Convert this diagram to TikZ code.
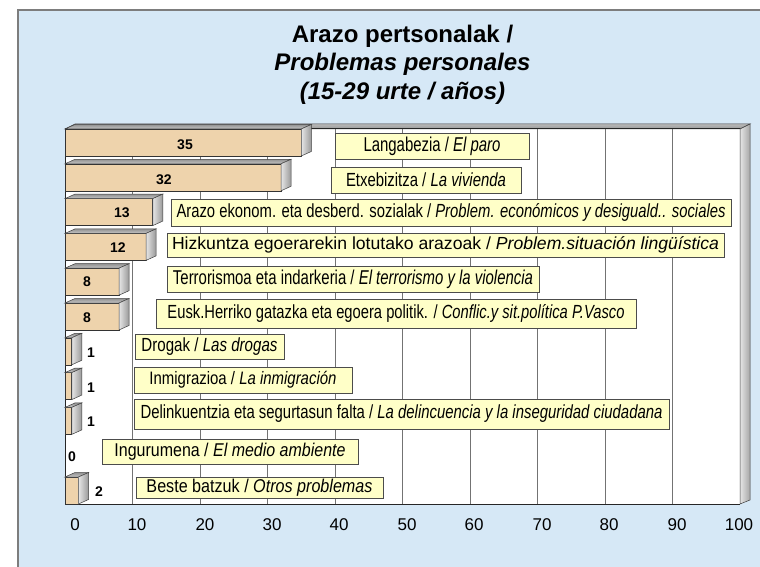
\documentclass[tikz,border=0pt]{standalone}
\usepackage{fontspec}
\setmainfont{Liberation Sans}
\usepackage{graphicx}
\definecolor{bgblue}{RGB}{214,232,246}
\definecolor{bartan}{RGB}{238,211,172}
\definecolor{lblyellow}{RGB}{255,255,200}
\definecolor{framegray}{RGB}{125,125,125}
\definecolor{gridgray}{RGB}{115,115,115}
\tikzset{
  lbl/.style={draw=black!70, fill=lblyellow, line width=0.8pt, inner sep=0pt,
    font=\fontsize{#1}{22}\selectfont},
  val/.style={font=\fontsize{14}{16}\selectfont\bfseries},
  ticklbl/.style={font=\fontsize{17}{20}\selectfont, anchor=base},
  ttl/.style={font=\fontsize{24}{28}\selectfont\bfseries, anchor=base},
  gridln/.style={gridgray, line width=0.9pt},
  edge/.style={draw=black!75, line width=0.5pt}
}
\newcommand{\drawbar}[2]{%
  \pgfmathsetmacro{\xe}{65+6.75*#2}%
  \pgfmathsetmacro{\yb}{#1+27}%
  \fill[bartan] (65,#1) rectangle (\xe,\yb);
  \draw[black!80, line width=0.6pt] (65,#1) rectangle (\xe,\yb);
  \shade[top color=gray!85, bottom color=gray!45, edge] (65,#1) -- (75,#1-4.5) -- (\xe+10,#1-4.5) -- (\xe,#1) -- cycle;
  \shade[left color=gray!20, right color=gray!80, edge] (\xe,#1) -- (\xe+10,#1-4.5) -- (\xe+10,\yb-4.5) -- (\xe,\yb) -- cycle;
}
\begin{document}
\begin{tikzpicture}[x=1pt,y=-1pt]
\useasboundingbox (0,0) rectangle (760,567);
% frame
\draw[framegray, line width=1.5pt, fill=bgblue] (18,10) rectangle (790,600);
% title
\node[ttl] (title1) at (402.5,42.5) {Arazo pertsonalak /};
\node[ttl] (title2) at (402.5,71) {\itshape Problemas personales};
\node[ttl] (title3) at (402.5,99.5) {\itshape (15-29 urte / años)};
% plot area
\fill[white] (65,129) rectangle (740,504);
\shade[top color=gray!55, bottom color=gray!80, edge] (65,129) -- (75,124) -- (750,124) -- (740,129) -- cycle;
\shade[left color=gray!20, right color=gray!70, edge] (740,129) -- (750,124) -- (750,500) -- (740,504) -- cycle;
\foreach \k in {1,...,9} {
  \draw[gridln] (65+67.5*\k,129) -- (65+67.5*\k,504);
}
\draw[black!85, line width=1pt] (740,129) -- (65,129) -- (65,504) -- (740,504);
% bars
\drawbar{129}{35}
\drawbar{163.8}{32}
\drawbar{198.6}{13}
\drawbar{233.4}{12}
\drawbar{268.2}{8}
\drawbar{303}{8}
\drawbar{337.8}{1}
\drawbar{372.6}{1}
\drawbar{407.4}{1}
\drawbar{477}{2}
% value labels
\node[val] (v1) at (185,145) {35};
\node[val] (v2) at (164,180) {32};
\node[val] (v3) at (122,213) {13};
\node[val] (v4) at (118,248) {12};
\node[val] (v5) at (87,282) {8};
\node[val] (v6) at (87,318) {8};
\node[val] (v7) at (91,353) {1};
\node[val] (v8) at (91,388) {1};
\node[val] (v9) at (91,422) {1};
\node[val] (v10) at (72,457) {0};
\node[val] (v11) at (99,492) {2};
% category labels
\node[lbl=20, minimum width=194pt, minimum height=26pt] (l1) at (432,146)
  {\resizebox{137pt}{\height}{Langabezia / \textit{El paro}}};
\node[lbl=19, minimum width=190pt, minimum height=26pt] (l2) at (426,180)
  {\resizebox{160pt}{\height}{Etxebizitza / \textit{La vivienda}}};
\node[lbl=19, minimum width=560pt, minimum height=27pt] (l3) at (451,212.5)
  {\resizebox{549pt}{\height}{Arazo ekonom. eta desberd. sozialak / \textit{Problem. económicos y desiguald.. sociales}}};
\node[lbl=17.5, minimum width=557pt, minimum height=24pt] (l4) at (445.5,245)
  {\resizebox{547pt}{\height}{Hizkuntza egoerarekin lotutako arazoak / \textit{Problem.situación lingüística}}};
\node[lbl=20, minimum width=372pt, minimum height=26pt] (l5) at (353,279)
  {\resizebox{360pt}{\height}{Terrorismoa eta indarkeria / \textit{El terrorismo y la violencia}}};
\node[lbl=19, minimum width=480pt, minimum height=29pt] (l6) at (396,313.5)
  {\resizebox{457pt}{\height}{Eusk.Herriko gatazka eta egoera politik. / \textit{Conflic.y sit.política P.Vasco}}};
\node[lbl=19, minimum width=149pt, minimum height=25pt] (l7) at (209.5,346.5)
  {\resizebox{136pt}{\height}{Drogak / \textit{Las drogas}}};
\node[lbl=18, minimum width=218pt, minimum height=26pt] (l8) at (243,380)
  {\resizebox{187pt}{\height}{Inmigrazioa / \textit{La inmigración}}};
\node[lbl=19, minimum width=535pt, minimum height=30pt] (l9) at (401.5,414)
  {\resizebox{522pt}{\height}{Delinkuentzia eta segurtasun falta / \textit{La delincuencia y la inseguridad ciudadana}}};
\node[lbl=18.5, minimum width=256pt, minimum height=25pt] (l10) at (230,451.5)
  {\resizebox{231pt}{\height}{Ingurumena / \textit{El medio ambiente}}};
\node[lbl=18.5, minimum width=247pt, minimum height=21pt] (l11) at (259.5,487.5)
  {\resizebox{226pt}{\height}{Beste batzuk / \textit{Otros problemas}}};
% axis tick labels
\foreach \v/\xx in {0/75,10/137,20/205,30/272,40/339,50/407,60/474,70/542,80/609,90/677,100/739} {
  \node[ticklbl] (t\v) at (\xx,530) {\v};
}
\end{tikzpicture}
\end{document}
